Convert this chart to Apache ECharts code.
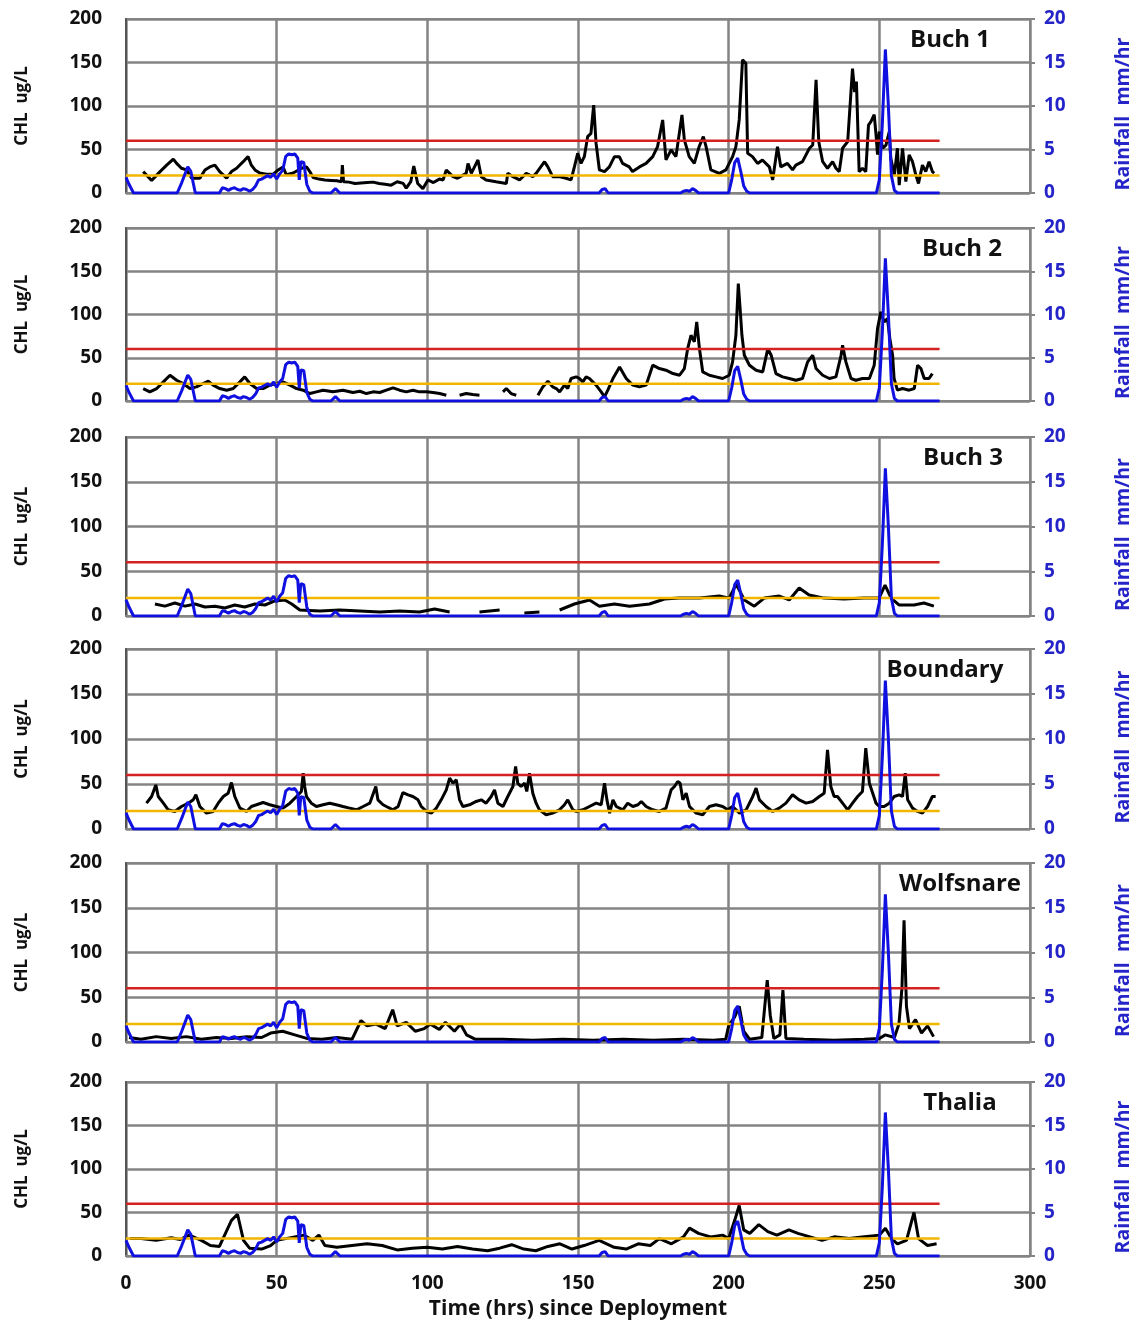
<!DOCTYPE html>
<html>
<head>
<meta charset="utf-8">
<script src="https://cdn.jsdelivr.net/npm/echarts@6/dist/echarts.min.js"></script>
<style>
  html, body { margin: 0; padding: 0; background: #ffffff; }
  #chart { width: 1141px; height: 1324px; }
</style>
</head>
<body>
<div id="chart"></div>
<script>
// Station names, one panel each
const stationNames = ['Buch 1', 'Buch 2', 'Buch 3', 'Boundary', 'Wolfsnare', 'Thalia'];

// Axis ticks
const timeTicks = [0, 50, 100, 150, 200, 250, 300];
const chlTicks = [0, 50, 100, 150, 200];
const rainTicks = [0, 5, 10, 15, 20];

// Reference levels (ug/L) drawn over the deployment period
const upperLevel = [[0, 60], [270, 60]];
const lowerLevel = [[0, 20], [270, 20]];

// Rainfall (mm/hr) vs hours since deployment, shared by all stations
const rainfall = [
  [0,1.8],[1,1.0],[2.5,0],[17,0],[18.5,1.2],[20.5,3.0],[21.5,2.5],[23,0],[31,0],[32,0.6],[33,0.5],[34,0.3],
  [35,0.5],[36,0.6],[37,0.4],[38,0.3],[39,0.5],[40,0.4],[41,0.2],[42,0.4],[43,0.8],[44,1.5],[45,1.6],[46,1.8],
  [47,2.0],[48,1.8],[49,2.2],[50,1.6],[51,2.2],[52,2.6],[53,4.2],[54,4.5],[55,4.4],[56,4.5],[57,4.0],[57.5,1.5],
  [58,3.6],[59,3.5],[60,1.0],[61,0.2],[62,0],[68,0],[69.5,0.5],[71,0],[157,0],[158,0.4],[159,0.5],[160,0],
  [184,0],[185,0.2],[186,0.3],[187,0.2],[188,0.5],[189,0.3],[190,0],[200,0],[201,1.5],[202,3.5],[203,4.0],
  [204,2.5],[205,0.8],[206,0.2],[207,0],[249,0],[250,1.5],[251,8],[252,16.5],[253,10],[254,2],[255,0.3],[256,0],[270,0]
];

// Chlorophyll (ug/L) per station; null marks a gap in the record
const chlBuch1 = [
  [5.7,24.6],[8.5,14.3],[11.3,24.6],[13.5,32],[15.7,39],[16.8,34],[18.4,28.4],[20.1,26.5],[21.8,17],[24.5,17],
  [26.2,26.5],[27.8,30],[29.5,32],[31.1,24.6],[33.4,17],[35,24.6],[36.7,28.4],[38.9,36],[40.5,42],[41.6,32],
  [42.8,26.5],[44.4,23],[46.6,21.5],[48.8,21.5],[50.5,26.5],[52.1,30],[53.2,21],[55.5,23],[58.2,28.4],[59.9,30],
  [61,24.6],[62.1,17.7],[64,16],[66,15],[68,14.5],[70,14],[71.5,13],[71.8,32],[72.2,13],[74,12.5],[76,11],
  [78,11.5],[80,12],[82,12.5],[84,11],[86,10],[88,9],[90,13],[92,11],[93,5.5],[94.5,13],[95.5,31],[96.8,11],
  [98.5,5],[100.2,15],[102,12],[104,16],[105.2,15],[106.3,26.5],[108.5,18.8],[110,17],[112.9,22.6],[113.5,34],
  [114.6,22.6],[116.8,38],[117.9,18.8],[119.5,15],[122.8,13],[126.2,11],[126.7,22.6],[128.4,18.8],[130.6,15],
  [132.8,22.6],[135,18.8],[136.1,22.6],[138.9,36],[140,30],[141.6,18.8],[143.8,18.8],[146,17],[147.7,15],
  [148.8,30],[149.9,45.6],[151,34],[152.1,41.8],[153.2,64.8],[154.3,68.6],[155.2,101],[156,57],[157.1,26.5],
  [158.8,24.6],[160.4,30],[162.1,41.8],[163.7,41.8],[164.8,34],[167,30],[168.1,24.6],[170.4,30],[172.6,34],
  [174.8,41.8],[176.4,53.3],[178.1,84],[179.2,38],[180.9,49.5],[182.5,41.8],[184.5,89.7],[185.3,61],[186.9,41.8],
  [188.6,34],[190.2,53.3],[191.6,64.8],[192.5,53.3],[194.1,26.5],[196.9,22.6],[199.1,26.5],[201.3,41.8],
  [202.4,53.3],[203.5,84],[204.6,153],[205.7,149],[206.3,45.6],[207.9,41.8],[209.6,34],[211.2,38],[213.5,30],
  [214.6,15],[216.2,53.3],[217.3,30],[219.5,34],[221.2,26.5],[222.3,32],[224.5,36],[226.8,51.4],[227.9,55.2],
  [229,130],[229.9,59],[231.2,36],[232.8,28.4],[234.5,36],[235.6,28.4],[236.7,24.6],[237.8,51.4],[239.5,59],
  [241.1,143],[241.8,116],[242.4,128],[243.3,24.6],[244.4,28.4],[245.5,24.6],[246.4,78],[247.2,82],[248.3,90],
  [248.9,67],[249.4,44],[250,70.5],[251.1,51.4],[252.2,55],[253.3,70.5],[253.8,40],[255,20.8],[256,51.4],
  [256.6,9],[257.7,51.4],[258.8,13],[259.9,43.7],[261,36],[262.1,20.8],[263,11],[264.3,32],[265.4,24.6],
  [266.5,36],[267.6,24.6],[268.2,22.7]
];

const chlBuch2 = [
  [5.7,14.4],[7.9,10.6],[10.2,14.4],[12.4,22.1],[14.6,29.8],[16.8,24],[19,20.2],[21.2,14.4],[23.4,16.3],
  [25.6,20.2],[27.3,22.9],[28.9,18.3],[31.1,14.4],[33.4,12.5],[35.6,14.4],[37.8,22.1],[39.4,27.9],[41.1,20.2],
  [43.3,14.4],[45.5,14.4],[47.7,18.3],[49.9,20.2],[52.1,22.1],[54.4,18.3],[56.6,14.4],[58.8,12.5],[61,8.6],
  [63.2,10.6],[65.4,12.5],[68.7,10.6],[72,12.5],[75.3,9.8],[77.6,11.3],[79.8,8.6],[82,10.6],[84.2,9.8],
  [86.4,12.5],[88.6,15.2],[90.8,12.5],[93,10.6],[95.2,12.5],[97.4,10.6],[99.7,10.6],[101.9,9.8],[104.1,8.6],
  [106.3,6.7],[107,null],[110.7,6.7],[112.9,8.6],[115.1,7.5],[117.3,6.7],[118,null],[125.1,10.6],[126.2,14.4],
  [127.8,8.6],[129.5,6.7],[130,null],[136.7,6.7],[138.3,16.3],[140,22.9],[141.6,16.3],[142.8,14.4],[143.9,10.6],
  [145.5,18.3],[146.6,14.4],[147.7,26],[149.4,27.9],[150.5,26],[151.6,22.1],[152.7,27.9],[153.8,26],[154.9,22.1],
  [156,18.3],[157.7,10.6],[158.8,4.8],[159.9,12.5],[161.6,26],[163.8,39.4],[166,26],[168.2,18.3],[170.4,16.3],
  [172.6,18.3],[173.7,29.8],[174.8,41.4],[177,37.5],[179.2,35.6],[181.5,31.7],[183.7,29.8],[185.3,37.5],
  [186.4,60.6],[187.5,76],[188.6,68.3],[189.4,91.4],[190.3,60.6],[191.4,33.6],[193.6,29.8],[195.8,27.9],
  [198,26],[200.2,29.8],[201.3,45.2],[202.4,76],[203.2,135.7],[203.8,106.8],[204.4,76],[205.2,52.9],
  [206.9,41.4],[209.1,35.6],[211.3,33.6],[213,60.6],[214.1,52.9],[215.7,31.7],[217.9,27.9],[220.1,26],
  [222.3,24],[224.5,26],[226.2,45.2],[227.9,52.9],[229,37.5],[231.2,29.8],[233.4,26],[235.6,27.9],[237.3,52.9],
  [237.8,64.5],[238.9,45.2],[240.6,26],[242.2,24],[244.4,26],[246.7,26],[248.3,41.4],[249.4,83.7],[250.5,103],
  [251.6,91.4],[252.7,95.3],[253.5,72],[254.4,52.9],[254.9,26],[256,12.5],[257.7,14.4],[259.9,12.5],
  [261.6,14.4],[262.7,41.4],[263.8,37.5],[264.9,26],[266.5,26],[267.6,31.7]
];

const chlBuch3 = [
  [9.6,13.4],[12.9,11],[16.2,14.5],[19.6,11],[22.9,13.4],[26.2,10],[29.5,11],[32.8,9],[36.1,12.3],[39.4,10],
  [42.8,13.4],[46.1,12.3],[49.4,16.8],[52.7,17.9],[55,13.4],[57.7,6.7],[64.3,5.6],[70.9,6.7],[77.6,5.6],
  [84.2,4.5],[90.8,5.6],[97.4,4.5],[102.4,7.8],[107.4,4.5],[110,null],[117.3,4.5],[124,6.7],[126,null],
  [132.2,3.4],[137.2,4.5],[139,null],[143.9,6.7],[148.8,13.4],[153.8,17.9],[157.1,11],[162.1,13.4],[167.1,11],
  [173.7,13.4],[178.7,19],[183.6,20],[190.3,20],[196.9,22.3],[200.2,20],[202.5,35.8],[205.2,17.9],[208.5,11],
  [211.8,20],[216.8,22.3],[220.1,17.9],[223.4,31.3],[226.7,23.5],[231.7,20],[238.3,19],[244.9,20],[249.9,20],
  [251.9,34.6],[253.9,20],[256.5,12.3],[261.5,12.3],[264.8,14.5],[268.1,11]
];

const chlBoundary = [
  [6.8,28.7],[8.5,36.1],[9.9,49],[10.7,36.1],[12.4,28.7],[14,21.3],[16.2,19.5],[18.4,25],[20.7,28.7],[22.3,32.4],
  [23.2,38],[24.5,25],[26.7,17.6],[28.9,19.5],[30.6,28.7],[32.3,36.1],[33.9,39.8],[35,51.6],[36.1,36.1],
  [37.8,23.2],[40,19.5],[41.6,25],[43.3,26.9],[45.5,29.4],[47.7,26.9],[49.9,25],[52.1,23.2],[54.4,28.7],
  [56.6,36.1],[58.2,41.7],[58.8,62],[59.3,47.2],[59.9,36.1],[61.5,28.7],[63.2,25],[65.4,26.9],[67.6,28.7],
  [69.8,26.9],[72,25],[74.2,23.2],[76.5,21.3],[78.7,25],[80.9,28.7],[82.9,47.2],[83.6,32.4],[85.3,26.9],
  [86.4,25],[88.6,21.3],[90.3,25],[91.9,40.5],[93.6,37.9],[95.2,36.1],[96.9,32.4],[98,25],[99.7,19.5],
  [101.3,17.6],[103,23.2],[104.6,32.4],[106.3,43.5],[107.4,56.5],[108.5,50.9],[109.6,54.6],[110.7,32.4],
  [111.8,25],[114,26.9],[116.2,30.6],[117.9,32.4],[119.5,28.7],[121.2,36.1],[122.3,43.5],[123.4,28.7],
  [125.1,25],[126.7,36.1],[128.4,47.2],[129.3,69.4],[130,50.9],[131.1,47.2],[132.3,50.9],[133,41.7],[133.9,62],
  [135,39.8],[136.1,28.7],[137.2,21.3],[139.4,15.8],[141.6,17.6],[143.9,21.3],[145.5,26.9],[146.6,32.4],
  [148.3,21.3],[149.4,19.5],[151.6,21.3],[153.8,25],[156,28.7],[157.7,26.9],[158.8,50.9],[159.6,32.4],
  [160.5,17.6],[161.6,32.4],[162.7,25],[164.9,21.3],[166.5,28.7],[168.2,25],[169.9,26.9],[171,30.6],[172.6,25],
  [174.8,21.3],[177,19.5],[179.2,23.2],[180.9,43.5],[182,47.2],[183.1,52.8],[183.9,50.9],[184.8,32.4],
  [185.9,39.8],[187,25],[189.2,17.6],[191.4,15.8],[193.6,25],[195.8,26.9],[198,25],[199.7,21.3],[201.3,25],
  [203.6,17.6],[205.8,21.3],[208,36.1],[209.1,45.4],[210.2,32.4],[212.4,25],[214.6,19.5],[216.8,23.2],
  [219,28.7],[221.2,38],[223.4,32.4],[225.7,28.7],[227.9,30.6],[230.1,36.1],[231.7,39.8],[232.8,87.9],
  [233.9,47.2],[235,36.1],[236.1,36.1],[237.8,28.7],[239.5,21.3],[241.1,28.7],[242.8,36.1],[244.4,41.7],
  [245.5,89.8],[246.7,50.9],[247.8,39.8],[248.9,28.7],[250,25],[251.6,25],[253.3,28.7],[254.9,36.1],
  [256.6,38],[257.7,36.1],[258.6,62],[259.4,32.4],[261,23.2],[262.7,19.5],[264.3,17.6],[266,25],[267.6,36.1],
  [268.7,36.1]
];

const chlWolfsnare = [
  [1,5],[5,3],[10,6],[15,4],[20,6],[25,3],[30,5],[35,4],[40,6],[45,5],[48,10],[52,12],[56,8],[60,4],[65,3],
  [70,5],[75,3],[78,24],[80,18],[83,20],[86,15],[88.5,36],[90,18],[93,22],[96,12],[99,15],[101,20],[104,14],
  [106,22],[109,12],[111,20],[113,8],[116,3],[125,3],[135,2],[145,3],[155,2],[165,3],[175,2],[185,3],[195,2],
  [199,3],[200,18],[202,28],[203.5,40],[205,12],[207,3],[211,5],[212.8,69],[213.8,30],[215,4],[217,8],[218,58],
  [219,4],[225,3],[235,2],[245,3],[250,4],[252,8],[255,5],[256.5,20],[257.5,60],[258.2,136],[259,40],[260,15],
  [262,25],[264,10],[266,18],[268,6]
];

const chlThalia = [
  [1.3,20],[5,20],[10,18],[15,21],[18,19],[21,24],[25,18],[28,12],[31,11],[35,41],[37,48],[39,18],[41,9],[45,8],
  [48,12],[50,18],[53,20],[56,22],[59,24],[62,18],[64,24],[66,12],[70,10],[75,12],[80,14],[85,12],[90,7],[95,9],
  [100,10],[105,8],[110,11],[115,8],[120,6],[124,9],[128,13],[132,8],[136,6],[140,11],[144,14],[148,8],[152,12],
  [157,18],[162,10],[166,8],[170,14],[174,12],[177,20],[181,14],[185,22],[187,32],[190,26],[194,22],[198,24],
  [200,20],[202,41],[203.5,58],[205,30],[207,26],[210,36],[213,28],[216,24],[220,30],[223,26],[227,22],[231,18],
  [235,22],[240,20],[245,22],[250,24],[252,32],[254,20],[256,14],[259,18],[261.5,50],[263,20],[266,12],[269,14]
];

const chlSeries = [chlBuch1, chlBuch2, chlBuch3, chlBoundary, chlWolfsnare, chlThalia];

// Panel layout (pixels)
const panelTop = [19, 228, 437, 649, 863, 1082];
const panelHeight = [174, 173, 179, 180, 179, 174];
const titleCenterX = [950, 962, 963, 945, 960, 960];
const plotLeft = 126;
const plotWidth = 905;

const FONT = '"Open Sans", "DejaVu Sans", sans-serif';
const GRID_GREY = '#848484';
const RAIN_BLUE = '#1010e0';
const RAIN_TEXT = '#2424c8';

const withGaps = arr => arr.map(p => [p[0], p[1] === null ? '-' : p[1]]);

const grids = [], xAxes = [], yAxes = [], series = [], graphics = [];
const last = stationNames.length - 1;

stationNames.forEach((name, i) => {
  grids.push({
    left: plotLeft, width: plotWidth, top: panelTop[i], height: panelHeight[i],
    show: true, borderColor: GRID_GREY, borderWidth: 2, backgroundColor: 'transparent'
  });

  xAxes.push({
    gridIndex: i, type: 'value',
    min: timeTicks[0], max: timeTicks[timeTicks.length - 1], interval: timeTicks[1] - timeTicks[0],
    axisLine: { show: true, lineStyle: { color: GRID_GREY, width: 2 } },
    axisTick: { show: false },
    axisLabel: { show: i === last, color: '#111', fontSize: 19, fontWeight: 'bold', fontFamily: FONT, margin: 18 },
    splitLine: { show: true, lineStyle: { color: GRID_GREY, width: 2.5 } },
    name: i === last ? 'Time (hrs) since Deployment' : '',
    nameLocation: 'middle', nameGap: 43,
    nameTextStyle: { color: '#111', fontSize: 21, fontWeight: 'bold', fontFamily: FONT }
  });

  yAxes.push({
    gridIndex: i, type: 'value', position: 'left',
    min: chlTicks[0], max: chlTicks[chlTicks.length - 1], interval: chlTicks[1] - chlTicks[0],
    axisLine: { show: true, lineStyle: { color: '#555', width: 2 } },
    axisTick: { show: false },
    axisLabel: { color: '#111', fontSize: 19, fontWeight: 'bold', fontFamily: FONT, margin: 24 },
    splitLine: { show: true, lineStyle: { color: GRID_GREY, width: 2.5 } },
    name: 'CHL  ug/L', nameLocation: 'middle', nameGap: 95,
    nameTextStyle: { color: '#111', fontSize: 17, fontWeight: 'bold', fontFamily: FONT }
  });

  yAxes.push({
    gridIndex: i, type: 'value', position: 'right',
    min: rainTicks[0], max: rainTicks[rainTicks.length - 1], interval: rainTicks[1] - rainTicks[0],
    axisLine: { show: true, lineStyle: { color: GRID_GREY, width: 2 } },
    axisTick: { show: true, length: 5, lineStyle: { color: GRID_GREY, width: 2 } },
    axisLabel: { color: RAIN_TEXT, fontSize: 19, fontWeight: 'bold', fontFamily: FONT, margin: 14 },
    splitLine: { show: false },
    name: 'Rainfall  mm/hr', nameLocation: 'middle', nameGap: 83, nameRotate: 90,
    nameTextStyle: { color: RAIN_TEXT, fontSize: 19.5, fontWeight: 'bold', fontFamily: FONT, padding: [0, 16, 0, 0] }
  });

  const lineBase = { type: 'line', xAxisIndex: i, showSymbol: false, symbol: 'none', animation: false, silent: true };

  series.push(Object.assign({}, lineBase, {
    name: name + ' CHL', yAxisIndex: 2 * i, data: withGaps(chlSeries[i]), connectNulls: false,
    lineStyle: { color: '#000', width: 3 }, z: 3
  }));
  series.push(Object.assign({}, lineBase, {
    name: name + ' upper', yAxisIndex: 2 * i, data: upperLevel,
    lineStyle: { color: '#d42222', width: 2.5 }, z: 4
  }));
  series.push(Object.assign({}, lineBase, {
    name: name + ' lower', yAxisIndex: 2 * i, data: lowerLevel,
    lineStyle: { color: '#f2b600', width: 2.5 }, z: 4
  }));
  series.push(Object.assign({}, lineBase, {
    name: name + ' rain', yAxisIndex: 2 * i + 1, data: rainfall,
    lineStyle: { color: RAIN_BLUE, width: 3 }, z: 5
  }));

  graphics.push({
    type: 'text', x: titleCenterX[i], y: panelTop[i] + 21, z: 10,
    style: { text: name, align: 'center', verticalAlign: 'middle', fontSize: 24, fontWeight: 'bold', fontFamily: FONT, fill: '#111' }
  });
});

const chart = echarts.init(document.getElementById('chart'), null, { renderer: 'canvas' });
chart.setOption({
  backgroundColor: '#ffffff',
  animation: false,
  grid: grids,
  xAxis: xAxes,
  yAxis: yAxes,
  series: series,
  graphic: graphics
});
</script>
</body>
</html>
